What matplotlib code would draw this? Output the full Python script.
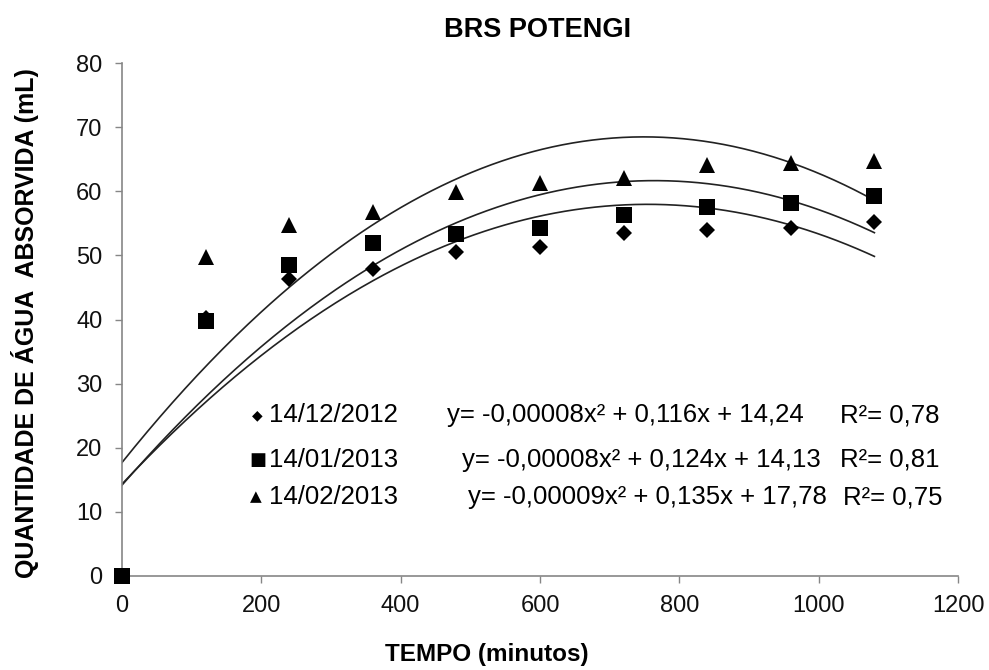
import numpy as np
import matplotlib
matplotlib.use("Agg")
import matplotlib.pyplot as plt

plt.rcParams['font.family'] = ['Liberation Sans', 'DejaVu Sans']

tempo = [0, 120, 240, 360, 480, 600, 720, 840, 960, 1080]
dez2012 = [0, 40.3, 46.3, 47.9, 50.5, 51.3, 53.5, 54.0, 54.3, 55.2]
jan2013 = [0, 39.8, 48.5, 51.9, 53.3, 54.3, 56.3, 57.5, 58.2, 59.3]
fev2013 = [0, 49.7, 54.7, 56.8, 59.9, 61.3, 62.1, 64.1, 64.4, 64.7]

labels = ['14/12/2012', '14/01/2013', '14/02/2013']
equations = ['y= -0,00008x\u00b2 + 0,116x + 14,24',
             'y= -0,00008x\u00b2 + 0,124x + 14,13',
             'y= -0,00009x\u00b2 + 0,135x + 17,78']
r2 = ['R\u00b2= 0,78', 'R\u00b2= 0,81', 'R\u00b2= 0,75']
symbols = ['\u25c6', '\u25a0', '\u25b2']

xticks = [0, 200, 400, 600, 800, 1000, 1200]
yticks = [0, 10, 20, 30, 40, 50, 60, 70, 80]

W, H = 989, 670
fig = plt.figure(figsize=(W / 100, H / 100), dpi=100)
ax = fig.add_axes([122 / W, 1 - 576 / H, (958 - 122) / W, (576 - 63) / H])

series = [dez2012, jan2013, fev2013]
markers = ['D', 's', '^']
msizes = [8, 11.5, 11]
xs = np.array(tempo, dtype=float)
xfit = np.linspace(0, 1080, 300)
for ys in series:
    coef = np.polyfit(xs, np.array(ys, dtype=float), 2)
    ax.plot(xfit, np.polyval(coef, xfit), color='#222222', lw=1.2, zorder=2)
for ys, m, ms in zip(series, markers, msizes):
    ax.plot(xs, ys, linestyle='none', marker=m, ms=ms, color='black',
            markeredgewidth=0, clip_on=False, zorder=3)

ax.set_xlim(0, 1200)
ax.set_ylim(0, 80)
ax.set_xticks(xticks)
ax.set_yticks(yticks)
ax.tick_params(axis='both', direction='out', length=5, width=1, color='#868686',
               labelsize=17, labelcolor='#111111', pad=9)
for s in ['top', 'right']:
    ax.spines[s].set_visible(False)
for s in ['left', 'bottom']:
    ax.spines[s].set_color('#868686')
    ax.spines[s].set_linewidth(1.2)

fig.text(538 / W, 1 - 30 / H, 'BRS POTENGI', ha='center', va='center',
         fontsize=19.5, fontweight='bold')
fig.text(487 / W, 1 - 655 / H, 'TEMPO (minutos)', ha='center', va='center',
         fontsize=17.5, fontweight='bold')
fig.text(25 / W, 1 - 323 / H, 'QUANTIDADE DE \u00c1GUA  ABSORVIDA (mL)', ha='center',
         va='center', rotation=90, fontsize=18, fontweight='bold')

row_y = [415, 460, 497]
eq_x = [447, 462, 468]
r2_x = [840, 840, 843]
sym_size = [10, 13, 11]
sym_x = [252, 249, 250]
for i in range(3):
    yy = 1 - row_y[i] / H
    fig.text(sym_x[i] / W, yy, symbols[i], ha='left', va='center', fontsize=sym_size[i],
             family=['DejaVu Sans'])
    fig.text(269 / W, yy, labels[i], ha='left', va='center', fontsize=18.5)
    fig.text(eq_x[i] / W, yy, equations[i], ha='left', va='center', fontsize=18.5)
    fig.text(r2_x[i] / W, yy, r2[i], ha='left', va='center', fontsize=18.5)

fig.savefig('out.png', dpi=100)
